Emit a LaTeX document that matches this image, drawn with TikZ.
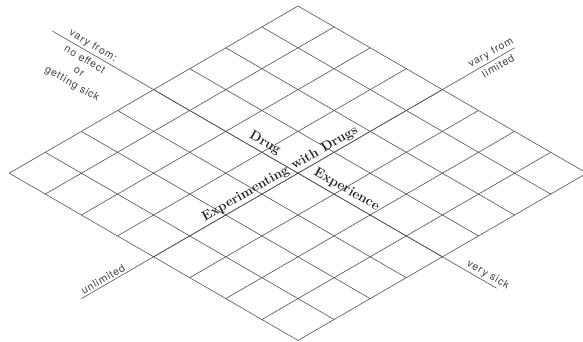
\documentclass[tikz,border=0pt]{standalone}
\usepackage{fontspec}
\newfontfamily\cadfont[LetterSpace=8]{TeX Gyre Heros}
\definecolor{gridgray}{HTML}{505050}
\definecolor{labgray}{HTML}{404040}
\begin{document}
\begin{tikzpicture}[x=1pt,y=1pt,
  grid/.style={draw=gridgray, line width=0.6pt},
  lab/.style={font=\cadfont\fontsize{10.5}{13}\selectfont, text=labgray, inner sep=0pt},
  ttl/.style={font=\bfseries\fontsize{13.5}{15}\selectfont, text=black!85, inner sep=0pt}]
\useasboundingbox (0,-342) rectangle (583,0);
\begin{scope}
\clip (0,-342) rectangle (583,0);
\foreach \i in {0,...,8} \draw[grid] ({298-36.1*\i},{-6-20.9*\i}) -- ++(288.8,-167.2);
\foreach \j in {0,...,8} \draw[grid] ({298+36.1*\j},{-6-20.9*\j}) -- ++(-288.8,-167.2);
\end{scope}
\coordinate (nw) at (52.5,-31.1);
\coordinate (se) at (496.6,-288.2);
\coordinate (ne) at (514.6,-47.8);
\coordinate (sw) at (81.4,-298.6);
\draw[grid] (nw) -- (se);
\draw[grid] (sw) -- (ne);
\node[lab, rotate=-30] (t1) at (93,-46) {vary from:};
\node[lab, rotate=-30] (t2) at (85,-59) {no effect};
\node[lab, rotate=-30] (t3) at (79,-72) {or};
\node[lab, rotate=-30] (t4) at (72,-84) {getting sick};
\node[lab, rotate=30] (t5) at (491,-53) {vary from};
\node[lab, rotate=30] (t6) at (498,-66) {limited};
\node[lab, rotate=30] (t7) at (103,-279) {unlimited};
\node[lab, rotate=-30] (t8) at (488,-275) {very sick};
\node[ttl, rotate=-30] (d1) at (265,-143) {Drug};
\node[ttl, rotate=30] (d2) at (280,-174) {Experimenting with Drugs};
\node[ttl, rotate=-30] (d3) at (346.5,-189.5) {Experience};
\end{tikzpicture}
\end{document}
